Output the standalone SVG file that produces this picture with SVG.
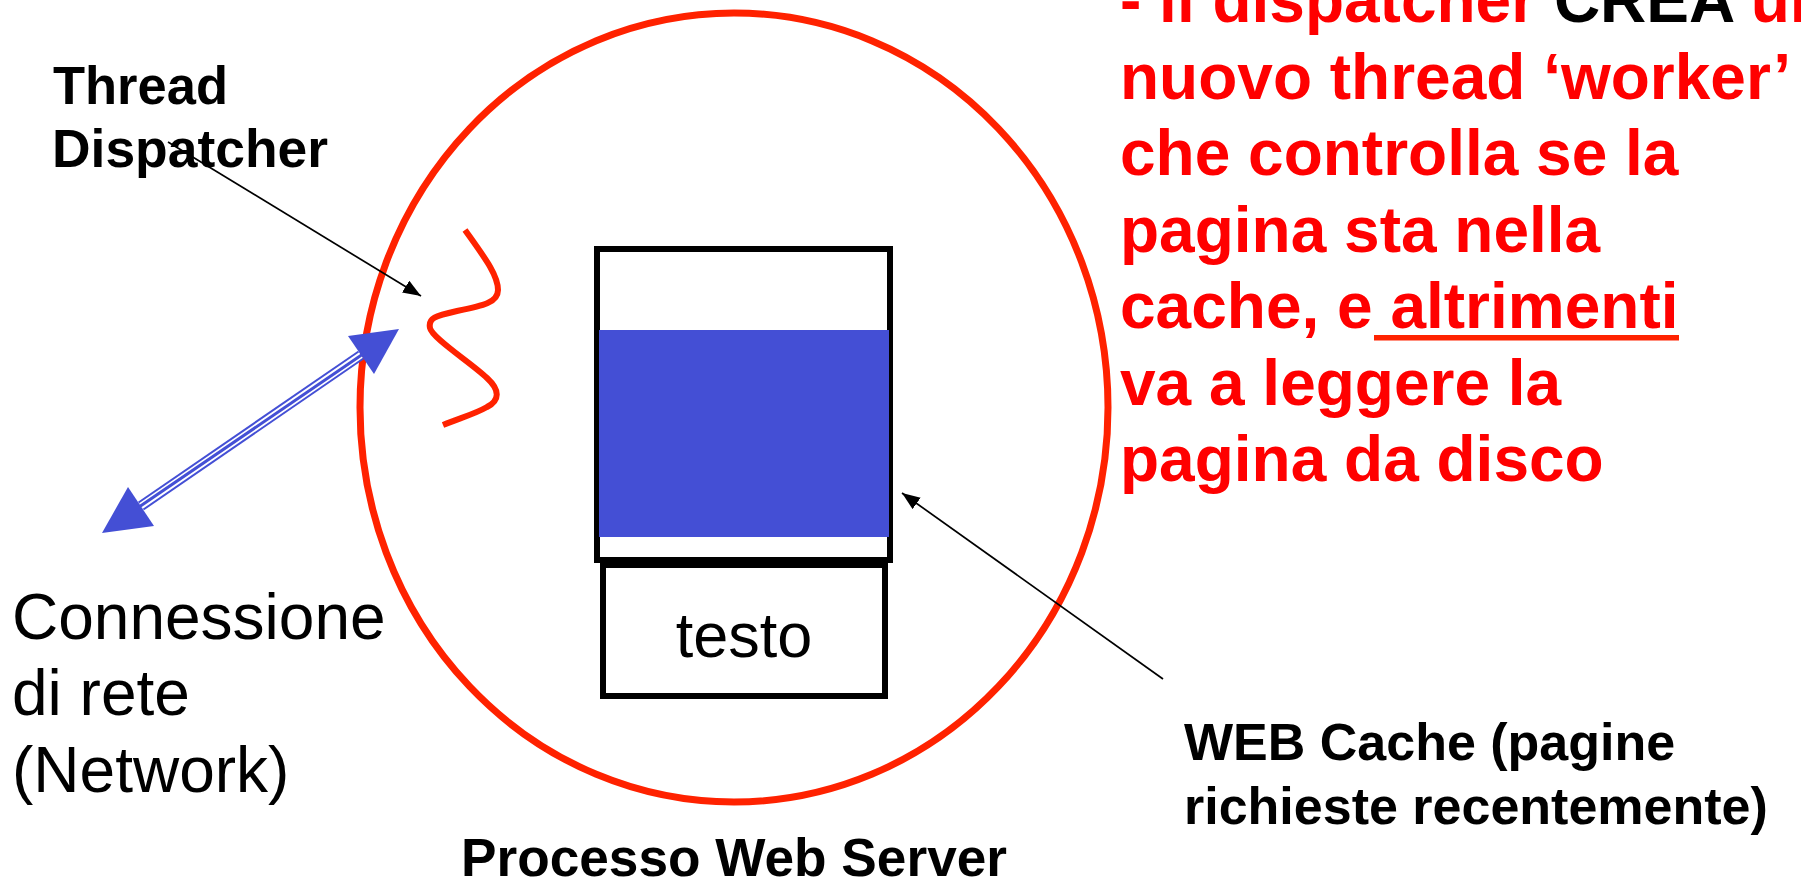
<svg xmlns="http://www.w3.org/2000/svg" width="1801" height="881" viewBox="0 0 1801 881">
<style>
.b{font-family:"Liberation Sans",Arial,sans-serif;font-weight:bold}
.r{font-family:"Liberation Sans",Arial,sans-serif}
.red{fill:#ff0000}
.thin{stroke:#000;stroke-width:1.7;fill:none}
.box{fill:#fff;stroke:#000;stroke-width:6}
</style>
<defs>
<marker id="ah" markerUnits="userSpaceOnUse" markerWidth="20" markerHeight="16" refX="18" refY="7" orient="auto">
<path d="M0,0 L18,7 L0,14 Z" fill="#000"/>
</marker>
</defs>
<rect width="1801" height="881" fill="#fff"/>
<g id="process">
<ellipse cx="734" cy="407.5" rx="374" ry="394.5" fill="none" stroke="#ff2200" stroke-width="7"/>
<text class="b" x="461" y="876" font-size="53" textLength="546" lengthAdjust="spacingAndGlyphs">Processo Web Server</text>
</g>
<g id="thread">
<path d="M465,230 C485,258 498,275 498,290 C498,303 482,306 457,311 C435,316 428,318 430,328 C432,338 470,362 487,378 C500,390 500,400 487,407 C475,414 460,418 443,425" fill="none" stroke="#ff2200" stroke-width="6"/>
</g>
<g id="thread-label">
<text class="b" x="53" y="104" font-size="53" textLength="175" lengthAdjust="spacingAndGlyphs">Thread</text>
<text class="b" x="52" y="167" font-size="53" textLength="276" lengthAdjust="spacingAndGlyphs">Dispatcher</text>
</g>
<g id="cache">
<rect class="box" x="597" y="249" width="293" height="311"/>
<rect x="599" y="330" width="290" height="207" fill="#444fd5"/>
</g>
<g id="testo">
<rect class="box" x="603" y="565" width="282" height="131"/>
<text class="r" x="744" y="657" font-size="63" text-anchor="middle">testo</text>
</g>
<g id="network-label">
<text class="r" font-size="64" x="12"><tspan x="12" y="639">Connessione</tspan><tspan x="12" y="715">di rete</tspan><tspan x="12" y="792">(Network)</tspan></text>
</g>
<g id="cache-label">
<text class="b" font-size="52" x="1184"><tspan x="1184" y="760">WEB Cache (pagine</tspan><tspan x="1184" y="824">richieste recentemente)</tspan></text>
</g>
<g id="note">
<text class="b red" font-size="64">
<tspan x="1120" y="22">- il dispatcher <tspan fill="#000">CREA</tspan> un</tspan>
<tspan x="1120" y="98.5">nuovo thread ‘worker’</tspan>
<tspan x="1120" y="175">che controlla se la</tspan>
<tspan x="1120" y="251.5">pagina sta nella</tspan>
<tspan x="1120" y="328">cache, e altrimenti</tspan>
<tspan x="1120" y="404.5">va a leggere la</tspan>
<tspan x="1120" y="481">pagina da disco</tspan>
</text>
<rect x="1374" y="335" width="305" height="5.5" fill="#ff2200"/>
</g>
<g id="connectors">
<line class="thin" x1="168" y1="142" x2="421" y2="296" marker-end="url(#ah)"/>
<line class="thin" x1="1163" y1="679" x2="902" y2="493" marker-end="url(#ah)"/>
<g id="network-arrow">
<line x1="361" y1="355" x2="141" y2="506" stroke="#444fd5" stroke-width="10.5"/>
<line x1="361" y1="355" x2="141" y2="506" stroke="#fff" stroke-width="6.5"/>
<line x1="363" y1="354" x2="139" y2="507" stroke="#444fd5" stroke-width="3"/>
<polygon points="399,329 348,336 374,374" fill="#444fd5"/>
<polygon points="102,533 128,487 154,526" fill="#444fd5"/>
</g>
</g>
</svg>
